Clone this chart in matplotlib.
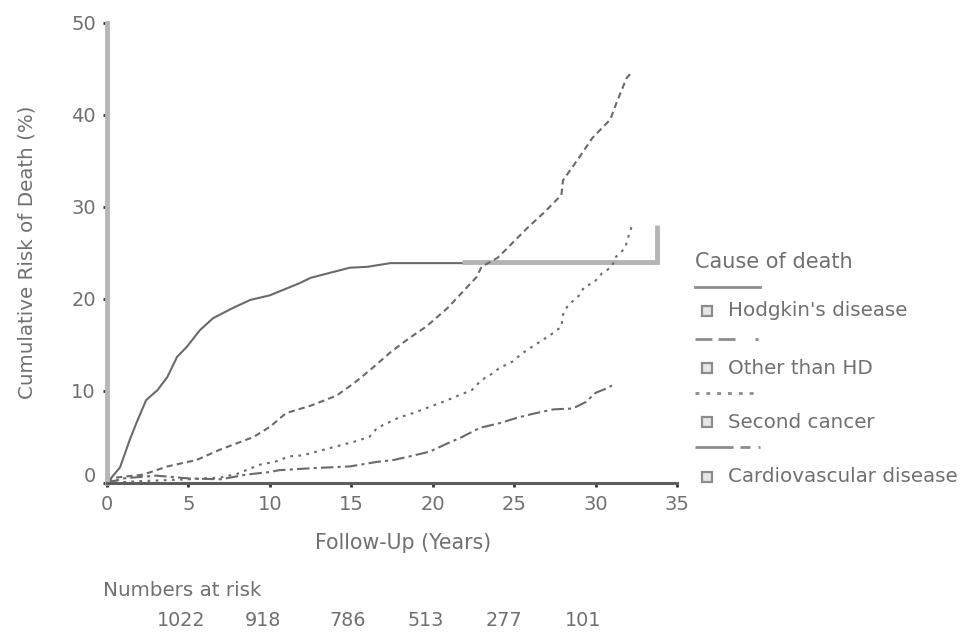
import matplotlib
matplotlib.use("Agg")
import matplotlib.pyplot as plt
from matplotlib.lines import Line2D
from matplotlib.transforms import ScaledTranslation

plt.rcParams['font.family'] = ['DejaVu Sans']

# ---- data ----
hd_x = [0, 0.8, 1.4, 1.8, 2.4, 3.1, 3.7, 4.3, 4.9, 5.7, 6.5, 7.7, 8.8, 10.0, 11.8, 12.5, 14.9, 16.0, 17.4, 21.8]
hd_y = [0, 1.7, 4.7, 6.5, 9.0, 10.1, 11.5, 13.7, 14.8, 16.6, 17.9, 19.0, 19.9, 20.4, 21.7, 22.3, 23.4, 23.5, 23.9, 23.9]

bracket_x = [21.8, 33.8, 33.8]
bracket_y = [24.0, 24.0, 28.0]

other_x = [0, 0.6, 2.2, 3.7, 5.5, 6.9, 9.0, 10.0, 11.0, 12.5, 14.1, 15.2, 16.3, 17.4, 18.6, 19.6, 20.9,
           21.8, 22.7, 23.0, 24.0, 24.9, 25.8, 26.9, 27.9, 28.0, 29.0, 29.8, 30.9, 31.3, 31.9, 32.2]
other_y = [0, 0.6, 0.9, 1.8, 2.5, 3.6, 5.0, 6.1, 7.6, 8.4, 9.5, 10.9, 12.5, 14.2, 15.8, 17.0, 19.0,
           20.7, 22.4, 23.5, 24.5, 26.1, 27.7, 29.5, 31.3, 32.9, 35.4, 37.5, 39.5, 41.4, 44.0, 44.6]

second_x = [0, 2.0, 5.0, 7.0, 8.0, 9.4, 10.3, 11.2, 12.0, 13.7, 15.2, 16.1, 16.6, 17.2, 17.9, 18.8, 19.4,
            20.9, 21.7, 22.4, 23.0, 23.5, 24.1, 24.9, 25.5, 26.1, 26.8, 27.4, 27.9, 28.0, 28.3, 29.0,
            29.3, 29.9, 30.4, 31.0, 31.2, 31.8, 32.0, 32.2]
second_y = [0, 0.2, 0.4, 0.6, 1.0, 2.0, 2.3, 2.9, 3.0, 3.8, 4.5, 5.0, 6.0, 6.5, 7.1, 7.6, 8.0,
            9.0, 9.6, 10.1, 11.2, 11.7, 12.5, 13.2, 14.1, 14.8, 15.6, 16.3, 17.0, 18.3, 19.3, 20.4,
            21.3, 21.8, 22.8, 23.5, 24.5, 25.5, 26.7, 27.8]

cardio_x = [0, 1.0, 3.0, 5.0, 7.0, 8.5, 10.0, 10.6, 12.5, 14.9, 16.6, 17.6, 18.6, 19.8, 20.9, 21.8, 22.9,
            24.1, 25.2, 26.1, 27.4, 28.6, 29.4, 30.0, 30.7, 31.0]
cardio_y = [0, 0.5, 0.8, 0.5, 0.4, 0.9, 1.2, 1.4, 1.6, 1.8, 2.3, 2.5, 2.9, 3.4, 4.3, 5.0, 6.0,
            6.5, 7.1, 7.5, 8.0, 8.1, 8.8, 9.8, 10.3, 10.6]

x_ticks = [0, 5, 10, 15, 20, 25, 30, 35]
y_ticks = [0, 10, 20, 30, 40, 50]
at_risk = ['1022', '918', '786', '513', '277', '101']
legend_labels = ["Hodgkin's disease", "Other than HD", "Second cancer", "Cardiovascular disease"]

# ---- figure ----
W, H = 974, 633
fig = plt.figure(figsize=(W / 100, H / 100), dpi=100)
ax = fig.add_axes([107 / W, 1 - 483 / H, 570 / W, 460 / H])

lc = '#6a6a6a'
lw = 1.5
tc = '#707070'
fs = 14.3

ax.plot(hd_x, hd_y, color=lc, lw=lw, ls='-')
ax.plot(bracket_x, bracket_y, color='#b4b4b4', lw=3.5, solid_capstyle='butt', solid_joinstyle='miter')
ax.plot(other_x, other_y, color=lc, lw=lw, ls=(0, (3, 2)))
ax.plot(second_x, second_y, color=lc, lw=lw, ls=(0, (1.3, 2.6)))
ax.plot(cardio_x, cardio_y, color=lc, lw=lw, ls=(0, (6, 2, 1.5, 2)))

ax.set_xlim(0, 35)
ax.set_ylim(0, 50)
ax.set_xticks(x_ticks)
ax.set_yticks(y_ticks)
for s in ['top', 'right']:
    ax.spines[s].set_visible(False)
ax.spines['left'].set_color('#b6b6b6')
ax.spines['left'].set_linewidth(3.5)
ax.spines['bottom'].set_color('#5e5e5e')
ax.spines['bottom'].set_linewidth(2.2)
ax.spines['bottom'].set_zorder(3)
ax.tick_params(axis='both', colors='#333333', labelcolor=tc, labelsize=fs - 0.3, length=3, width=2)
ax.tick_params(axis='x', pad=6)
ax.tick_params(axis='y', pad=5)

# the "0" on the y axis sits a little above its tick in the reference
fig.canvas.draw()
ylabels = ax.get_yticklabels()
ylabels[0].set_transform(ylabels[0].get_transform() + ScaledTranslation(0, 8 / 100, fig.dpi_scale_trans))

ax.set_xlabel('Follow-Up (Years)', fontsize=fs + 0.5, color=tc)
ax.xaxis.set_label_coords((403 - 107) / 570, (483 - 543) / 460)
ax.xaxis.label.set_va('center')
ax.set_ylabel('Cumulative Risk of Death (%)', fontsize=fs, color=tc)
ax.yaxis.set_label_coords((27 - 107) / 570, (483 - 252) / 460)
ax.yaxis.label.set_va('center')

# numbers at risk
fig.text(103 / W, 1 - 591 / H, 'Numbers at risk', fontsize=fs, color=tc, va='center', ha='left')
risk_px = [181, 263, 348, 426, 504, 583]
for v, px in zip(at_risk, risk_px):
    fig.text(px / W, 1 - 620 / H, v, fontsize=fs - 0.5, color=tc, va='center', ha='center')

# legend (custom layout)
fig.text(695 / W, 1 - 262 / H, 'Cause of death', fontsize=fs + 0.7, color=tc, va='center', ha='left')
styles = ['-',
          (0, (6.1, 2.2, 6.1, 7.2, 1.1, 3.0)),
          (0, (1.4, 2.5)),
          (0, (13.7, 2.5, 3.6, 2.9, 1.1, 3.0))]
line_y = [287, 339, 393, 447]
text_y = [311, 368, 422, 477]
for st, ly, ty, lab in zip(styles, line_y, text_y, legend_labels):
    fig.add_artist(Line2D([695 / W, 760 / W], [1 - ly / H, 1 - ly / H], transform=fig.transFigure,
                          color='#8c8c8c', lw=2.0, ls=st, dash_capstyle='butt'))
    fig.add_artist(Line2D([707 / W], [1 - ty / H], transform=fig.transFigure, ls='none',
                          marker='s', ms=7, mfc='#e6e6e6', mec='#8c8c8c', mew=1.6))
    fig.text(728 / W, 1 - ty / H, lab, fontsize=fs, color=tc, va='center', ha='left')

fig.savefig('out.png', dpi=100)
